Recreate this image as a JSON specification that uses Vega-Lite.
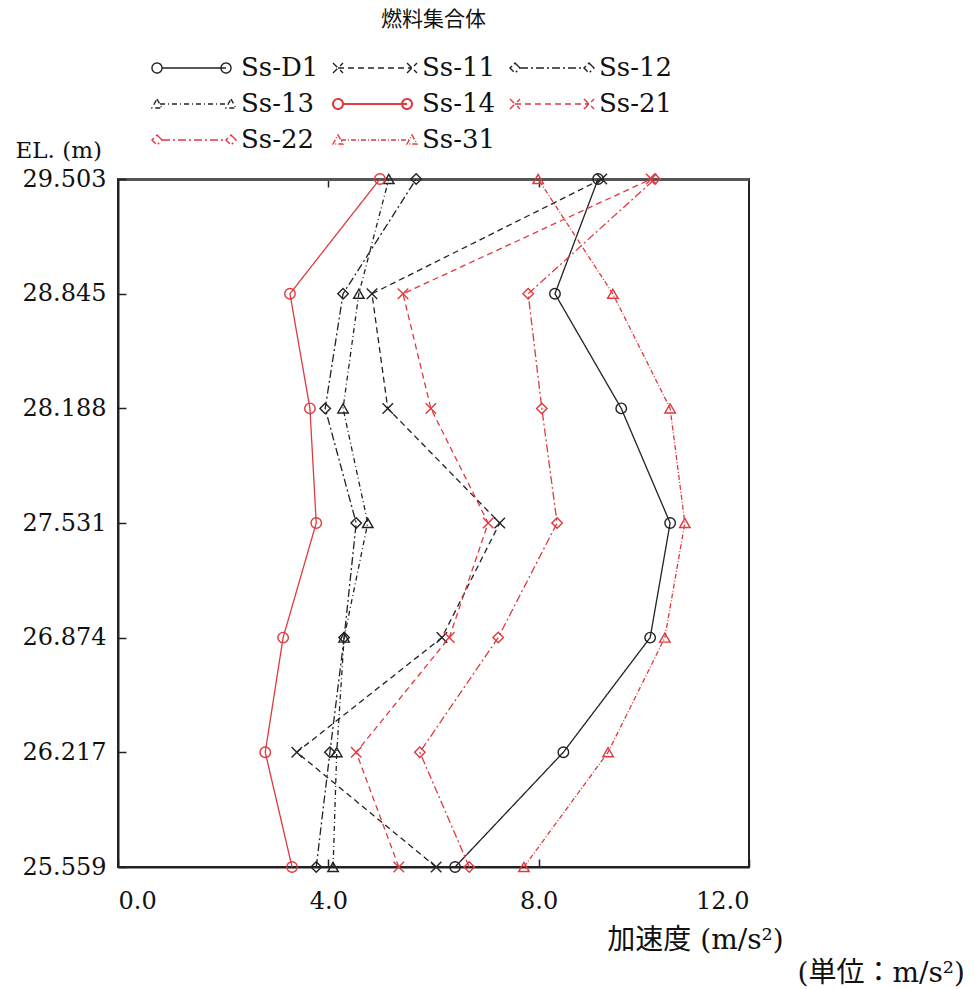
{
  "$schema": "https://vega.github.io/schema/vega-lite/v6.json",
  "width": 631,
  "height": 688,
  "autosize": {"type": "none"},
  "padding": {"left": 118, "top": 179, "right": 226, "bottom": 122},
  "title": {
    "text": "(単位：m/s²)",
    "orient": "bottom",
    "anchor": "end",
    "frame": "group",
    "dx": 216,
    "offset": 6,
    "font": "DejaVu Serif, Noto Sans CJK JP",
    "fontSize": 28,
    "fontWeight": "normal",
    "color": "#111"
  },
  "data": {
    "values": [
      {"series": "Ss-D1", "el": 29.503, "acc": 9.13},
      {"series": "Ss-D1", "el": 28.845, "acc": 8.31},
      {"series": "Ss-D1", "el": 28.188, "acc": 9.57},
      {"series": "Ss-D1", "el": 27.531, "acc": 10.50},
      {"series": "Ss-D1", "el": 26.874, "acc": 10.12},
      {"series": "Ss-D1", "el": 26.217, "acc": 8.47},
      {"series": "Ss-D1", "el": 25.559, "acc": 6.41},
      {"series": "Ss-11", "el": 29.503, "acc": 9.20},
      {"series": "Ss-11", "el": 28.845, "acc": 4.83},
      {"series": "Ss-11", "el": 28.188, "acc": 5.13},
      {"series": "Ss-11", "el": 27.531, "acc": 7.26},
      {"series": "Ss-11", "el": 26.874, "acc": 6.16},
      {"series": "Ss-11", "el": 26.217, "acc": 3.40},
      {"series": "Ss-11", "el": 25.559, "acc": 6.05},
      {"series": "Ss-12", "el": 29.503, "acc": 5.67},
      {"series": "Ss-12", "el": 28.845, "acc": 4.28},
      {"series": "Ss-12", "el": 28.188, "acc": 3.94},
      {"series": "Ss-12", "el": 27.531, "acc": 4.53},
      {"series": "Ss-12", "el": 26.874, "acc": 4.30},
      {"series": "Ss-12", "el": 26.217, "acc": 4.03},
      {"series": "Ss-12", "el": 25.559, "acc": 3.77},
      {"series": "Ss-13", "el": 29.503, "acc": 5.15},
      {"series": "Ss-13", "el": 28.845, "acc": 4.58},
      {"series": "Ss-13", "el": 28.188, "acc": 4.28},
      {"series": "Ss-13", "el": 27.531, "acc": 4.75},
      {"series": "Ss-13", "el": 26.874, "acc": 4.30},
      {"series": "Ss-13", "el": 26.217, "acc": 4.16},
      {"series": "Ss-13", "el": 25.559, "acc": 4.09},
      {"series": "Ss-14", "el": 29.503, "acc": 4.98},
      {"series": "Ss-14", "el": 28.845, "acc": 3.27},
      {"series": "Ss-14", "el": 28.188, "acc": 3.65},
      {"series": "Ss-14", "el": 27.531, "acc": 3.77},
      {"series": "Ss-14", "el": 26.874, "acc": 3.14},
      {"series": "Ss-14", "el": 26.217, "acc": 2.80},
      {"series": "Ss-14", "el": 25.559, "acc": 3.31},
      {"series": "Ss-21", "el": 29.503, "acc": 10.14},
      {"series": "Ss-21", "el": 28.845, "acc": 5.42},
      {"series": "Ss-21", "el": 28.188, "acc": 5.95},
      {"series": "Ss-21", "el": 27.531, "acc": 7.04},
      {"series": "Ss-21", "el": 26.874, "acc": 6.30},
      {"series": "Ss-21", "el": 26.217, "acc": 4.53},
      {"series": "Ss-21", "el": 25.559, "acc": 5.34},
      {"series": "Ss-22", "el": 29.503, "acc": 10.21},
      {"series": "Ss-22", "el": 28.845, "acc": 7.80},
      {"series": "Ss-22", "el": 28.188, "acc": 8.06},
      {"series": "Ss-22", "el": 27.531, "acc": 8.35},
      {"series": "Ss-22", "el": 26.874, "acc": 7.23},
      {"series": "Ss-22", "el": 26.217, "acc": 5.74},
      {"series": "Ss-22", "el": 25.559, "acc": 6.68},
      {"series": "Ss-31", "el": 29.503, "acc": 7.99},
      {"series": "Ss-31", "el": 28.845, "acc": 9.41},
      {"series": "Ss-31", "el": 28.188, "acc": 10.50},
      {"series": "Ss-31", "el": 27.531, "acc": 10.78},
      {"series": "Ss-31", "el": 26.874, "acc": 10.40},
      {"series": "Ss-31", "el": 26.217, "acc": 9.32},
      {"series": "Ss-31", "el": 25.559, "acc": 7.72}
    ]
  },
  "encoding": {
    "y": {
      "field": "el",
      "type": "quantitative",
      "scale": {"domain": [25.559, 29.503], "nice": false, "zero": false},
      "axis": {
        "values": [25.559, 26.217, 26.874, 27.531, 28.188, 28.845, 29.503],
        "format": ".3f",
        "title": "EL. (m)",
        "titleAngle": 0,
        "titleAlign": "left",
        "titleBaseline": "middle",
        "titleX": -103,
        "titleY": -29,
        "tickSize": -8,
        "labelPadding": 20
      }
    },
    "color": {
      "field": "series",
      "type": "nominal",
      "scale": {
        "domain": ["Ss-D1", "Ss-11", "Ss-12", "Ss-13", "Ss-14", "Ss-21", "Ss-22", "Ss-31"],
        "range": ["#222222", "#222222", "#222222", "#222222", "#e0393e", "#e0393e", "#e0393e", "#e0393e"]
      },
      "legend": {
        "title": null,
        "orient": "none",
        "legendX": 26,
        "legendY": -124,
        "direction": "horizontal",
        "columns": 3,
        "columnPadding": 6,
        "rowPadding": 10,
        "symbolSize": 100,
        "labelOffset": 71,
        "labelLimit": 200,
        "labelFontSize": 26,
        "encoding": {
          "symbols": {
            "shape": {"value": {"expr": "indexof(['Ss-D1','Ss-14'], datum.value) >= 0 ? 'M-1,0A1,1 0 1,0 1,0A1,1 0 1,0 -1,0M1,0L13.8,0M12.8,0A1,1 0 1,0 14.8,0A1,1 0 1,0 12.8,0' : indexof(['Ss-11','Ss-21'], datum.value) >= 0 ? 'M-1,-1L1,1M-1,1L1,-1M0,0L14.8,0M13.8,-1L15.8,1M13.8,1L15.8,-1' : indexof(['Ss-12','Ss-22'], datum.value) >= 0 ? 'M0,-1L1,0L0,1L-1,0ZM1,0L13.8,0M14.8,-1L15.8,0L14.8,1L13.8,0Z' : 'M0,-1L1,0.8L-1,0.8ZM0.6,0L14.2,0M14.8,-1L15.8,0.8L13.8,0.8Z'"}},
            "strokeDash": {"value": {"expr": "scale('strokeDash', datum.value)"}},
            "fill": {"value": "transparent"},
            "stroke": {"value": {"expr": "scale('color', datum.value)"}},
            "strokeWidth": {"value": {"expr": "datum.value === 'Ss-14' ? 2 : 1.4"}},
            "size": {"value": 100},
            "opacity": {"value": 1}
          }
        }
      }
    }
  },
  "layer": [
    {
      "mark": {"type": "line"},
      "encoding": {
        "x": {
          "field": "acc",
          "type": "quantitative",
          "scale": {"domain": [0, 12], "nice": false, "zero": true},
          "axis": {
            "orient": "bottom",
            "values": [0, 4, 8, 12],
            "format": ".1f",
            "tickSize": -8,
            "labelPadding": 30,
            "title": "加速度 (m/s²)",
            "titleFontSize": 28,
            "titleX": 577,
            "titleY": 73,
            "titleAlign": "center",
            "titleBaseline": "middle"
          }
        },
        "order": {"field": "el", "type": "quantitative"},
        "strokeDash": {
          "field": "series",
          "type": "nominal",
          "scale": {
            "range": [[6, 4], [8, 3, 2, 3], [5, 3, 1, 3], [1, 0], [6, 4], [8, 3, 2, 3], [5, 2, 1, 2], [1, 0]]
          },
          "legend": null
        },
        "strokeWidth": {
          "field": "series",
          "type": "nominal",
          "scale": {
            "range": [1.3, 1.3, 1.3, 2, 1.3, 1.3, 1.3, 1.6]
          },
          "legend": null
        }
      }
    },
    {
      "mark": {"type": "point", "filled": false, "size": 110, "strokeWidth": 1.4, "opacity": 1},
      "encoding": {
        "x": {
          "field": "acc",
          "type": "quantitative",
          "axis": {
            "orient": "top",
            "values": [4, 8],
            "labels": false,
            "tickSize": -8,
            "domainWidth": 3,
            "domainColor": "#555555",
            "title": "燃料集合体",
            "titleFont": "Noto Sans CJK JP",
            "titleFontSize": 21,
            "titleX": 315,
            "titleY": -160,
            "titleAlign": "center",
            "titleBaseline": "middle"
          }
        },
        "shape": {
          "field": "series",
          "type": "nominal",
          "scale": {
            "range": ["M-1,-1L1,1M-1,1L1,-1", "diamond", "triangle-up", "circle", "M-1,-1L1,1M-1,1L1,-1", "diamond", "triangle-up", "circle"]
          },
          "legend": null
        }
      }
    }
  ],
  "resolve": {"axis": {"x": "independent"}},
  "config": {
    "font": "DejaVu Serif, Noto Sans CJK JP",
    "view": {"stroke": "#222222", "strokeWidth": 2},
    "axis": {
      "grid": false,
      "labelFont": "DejaVu Serif, Noto Sans CJK JP",
      "labelFontSize": 24,
      "labelColor": "#111111",
      "titleFont": "DejaVu Serif, Noto Sans CJK JP",
      "titleFontSize": 23,
      "titleFontWeight": "normal",
      "titleColor": "#111111",
      "domainColor": "#222222",
      "domainWidth": 2,
      "tickColor": "#222222",
      "tickWidth": 1.5
    },
    "legend": {
      "labelFont": "DejaVu Serif, Noto Sans CJK JP",
      "labelColor": "#111111"
    }
  }
}
